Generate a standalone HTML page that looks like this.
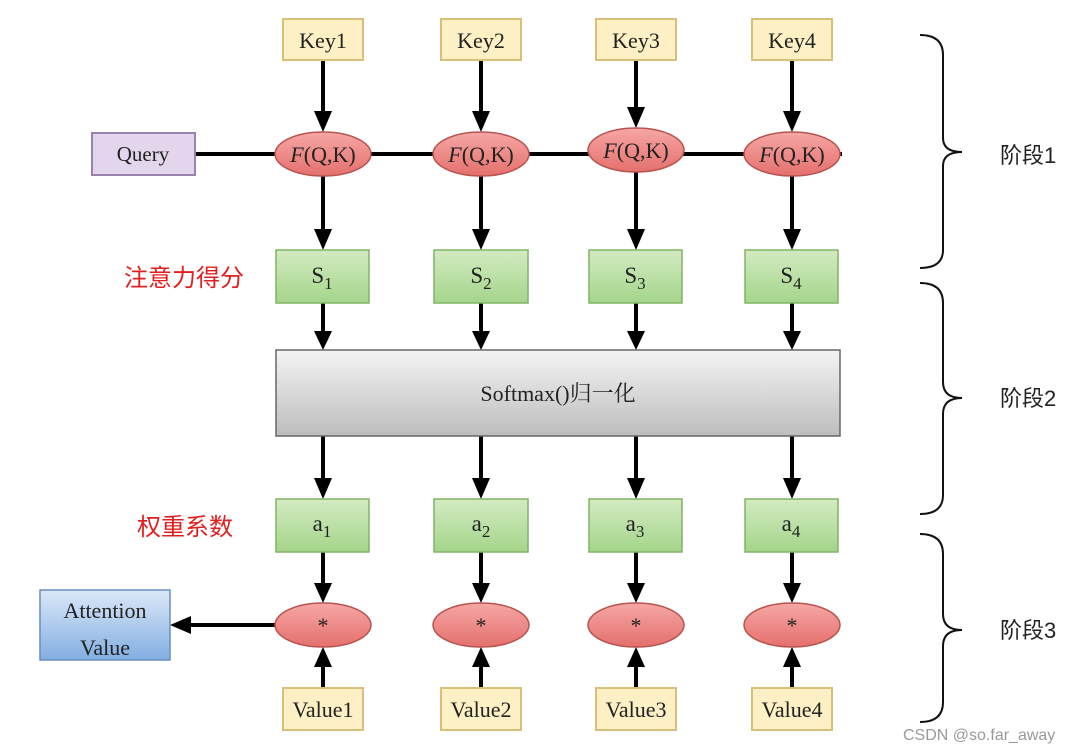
<!DOCTYPE html>
<html><head><meta charset="utf-8"><style>
html,body{margin:0;padding:0;background:#fff;}
svg{display:block;}
text{font-family:"Liberation Serif","Noto Serif CJK SC",serif;fill:#222;}
.cjk{font-family:"Liberation Sans","Noto Sans CJK SC",sans-serif;}
</style></head><body>
<svg width="1092" height="750" viewBox="0 0 1092 750" xmlns="http://www.w3.org/2000/svg">
<defs>
<linearGradient id="gray" x1="0" y1="0" x2="0" y2="1"><stop offset="0" stop-color="#f4f4f4"/><stop offset="1" stop-color="#bdbdbd"/></linearGradient>
<linearGradient id="red" x1="0" y1="0" x2="0" y2="1"><stop offset="0" stop-color="#f6a7a5"/><stop offset="1" stop-color="#e4706d"/></linearGradient>
<linearGradient id="green" x1="0" y1="0" x2="0" y2="1"><stop offset="0" stop-color="#d3ebc2"/><stop offset="1" stop-color="#a4d58a"/></linearGradient>
<linearGradient id="blue" x1="0" y1="0" x2="0" y2="1"><stop offset="0" stop-color="#dce8f8"/><stop offset="1" stop-color="#82aee2"/></linearGradient>
</defs>
<line x1="195" y1="154" x2="842" y2="154" stroke="#000" stroke-width="4"/>
<g stroke="#000" stroke-width="4">
<line x1="323" y1="60" x2="323" y2="115"/><line x1="481" y1="60" x2="481" y2="115"/><line x1="636" y1="60" x2="636" y2="110"/><line x1="792" y1="60" x2="792" y2="115"/>
<line x1="323" y1="176" x2="323" y2="232"/><line x1="481" y1="176" x2="481" y2="232"/><line x1="636" y1="172" x2="636" y2="232"/><line x1="792" y1="176" x2="792" y2="232"/>
<line x1="323" y1="303" x2="323" y2="334"/><line x1="481" y1="303" x2="481" y2="334"/><line x1="636" y1="303" x2="636" y2="334"/><line x1="792" y1="303" x2="792" y2="334"/>
<line x1="323" y1="436" x2="323" y2="481"/><line x1="481" y1="436" x2="481" y2="481"/><line x1="636" y1="436" x2="636" y2="481"/><line x1="792" y1="436" x2="792" y2="481"/>
<line x1="323" y1="552" x2="323" y2="586"/><line x1="481" y1="552" x2="481" y2="586"/><line x1="636" y1="552" x2="636" y2="586"/><line x1="792" y1="552" x2="792" y2="586"/>
<line x1="323" y1="688" x2="323" y2="664"/><line x1="481" y1="688" x2="481" y2="664"/><line x1="636" y1="688" x2="636" y2="664"/><line x1="792" y1="688" x2="792" y2="664"/>
<line x1="275" y1="625" x2="188" y2="625"/>
</g>
<g fill="#000">
<polygon points="314,111 332,111 323,132"/><polygon points="472,111 490,111 481,132"/><polygon points="627,107 645,107 636,128"/><polygon points="783,111 801,111 792,132"/>
<polygon points="314,229 332,229 323,250"/><polygon points="472,229 490,229 481,250"/><polygon points="627,229 645,229 636,250"/><polygon points="783,229 801,229 792,250"/>
<polygon points="314,331 332,331 323,350"/><polygon points="472,331 490,331 481,350"/><polygon points="627,331 645,331 636,350"/><polygon points="783,331 801,331 792,350"/>
<polygon points="314,478 332,478 323,499"/><polygon points="472,478 490,478 481,499"/><polygon points="627,478 645,478 636,499"/><polygon points="783,478 801,478 792,499"/>
<polygon points="314,583 332,583 323,603"/><polygon points="472,583 490,583 481,603"/><polygon points="627,583 645,583 636,603"/><polygon points="783,583 801,583 792,603"/>
<polygon points="314,667 332,667 323,647"/><polygon points="472,667 490,667 481,647"/><polygon points="627,667 645,667 636,647"/><polygon points="783,667 801,667 792,647"/>
<polygon points="191,616 191,634 170,625"/>
</g>
<g fill="#fdf0c4" stroke="#d9c07a" stroke-width="2">
<rect x="283" y="19" width="80" height="41"/><rect x="441" y="19" width="80" height="41"/><rect x="596" y="19" width="80" height="41"/><rect x="752" y="19" width="80" height="41"/>
<rect x="283" y="688" width="80" height="42"/><rect x="441" y="688" width="80" height="42"/><rect x="596" y="688" width="80" height="42"/><rect x="752" y="688" width="80" height="42"/>
</g>
<g font-size="22" text-anchor="middle">
<text x="323" y="48">Key1</text><text x="481" y="48">Key2</text><text x="636" y="48">Key3</text><text x="792" y="48">Key4</text>
<text x="323" y="717">Value1</text><text x="481" y="717">Value2</text><text x="636" y="717">Value3</text><text x="792" y="717">Value4</text>
</g>
<rect x="92" y="133" width="103" height="42" fill="#e3d5ec" stroke="#9b83b0" stroke-width="2"/>
<text x="143" y="161" font-size="21" text-anchor="middle">Query</text>
<g fill="url(#red)" stroke="#b85450" stroke-width="1.5">
<ellipse cx="323" cy="154" rx="48" ry="22"/><ellipse cx="481" cy="154" rx="48" ry="22"/><ellipse cx="636" cy="150" rx="48" ry="22"/><ellipse cx="792" cy="154" rx="48" ry="22"/>
<ellipse cx="323" cy="625" rx="48" ry="22"/><ellipse cx="481" cy="625" rx="48" ry="22"/><ellipse cx="636" cy="625" rx="48" ry="22"/><ellipse cx="792" cy="625" rx="48" ry="22"/>
</g>
<g font-size="22" text-anchor="middle">
<text x="323" y="162"><tspan font-style="italic">F</tspan>(Q,K)</text><text x="481" y="162"><tspan font-style="italic">F</tspan>(Q,K)</text><text x="636" y="158"><tspan font-style="italic">F</tspan>(Q,K)</text><text x="792" y="162"><tspan font-style="italic">F</tspan>(Q,K)</text>
<text x="323" y="633">*</text><text x="481" y="633">*</text><text x="636" y="633">*</text><text x="792" y="633">*</text>
</g>
<g fill="url(#green)" stroke="#82b366" stroke-width="1.5">
<rect x="276" y="250" width="93" height="53"/><rect x="434" y="250" width="94" height="53"/><rect x="589" y="250" width="93" height="53"/><rect x="745" y="250" width="93" height="53"/>
<rect x="276" y="499" width="93" height="53"/><rect x="434" y="499" width="94" height="53"/><rect x="589" y="499" width="93" height="53"/><rect x="745" y="499" width="93" height="53"/>
</g>
<g font-size="23" text-anchor="middle">
<text x="322" y="283">S<tspan font-size="17" dy="6">1</tspan></text><text x="481" y="283">S<tspan font-size="17" dy="6">2</tspan></text><text x="635" y="283">S<tspan font-size="17" dy="6">3</tspan></text><text x="791" y="283">S<tspan font-size="17" dy="6">4</tspan></text>
<text x="322" y="531">a<tspan font-size="17" dy="6">1</tspan></text><text x="481" y="531">a<tspan font-size="17" dy="6">2</tspan></text><text x="635" y="531">a<tspan font-size="17" dy="6">3</tspan></text><text x="791" y="531">a<tspan font-size="17" dy="6">4</tspan></text>
</g>
<rect x="276" y="350" width="564" height="86" fill="url(#gray)" stroke="#666" stroke-width="1.5"/>
<text x="558" y="401" font-size="22" text-anchor="middle">Softmax()归一化</text>
<rect x="40" y="590" width="130" height="70" fill="url(#blue)" stroke="#6c8ebf" stroke-width="1.5"/>
<text x="105" y="618" font-size="22" text-anchor="middle">Attention</text>
<text x="105" y="655" font-size="22" text-anchor="middle">Value</text>
<text class="cjk" x="184" y="286" font-size="24" style="fill:#e02020" text-anchor="middle">注意力得分</text>
<text class="cjk" x="185" y="535" font-size="24" style="fill:#e02020" text-anchor="middle">权重系数</text>
<g fill="none" stroke="#111" stroke-width="2">
<path d="M920,35 Q943,35 943,55 L943,138 Q943,152 962,152 Q943,152 943,166 L943,250 Q943,268 920,268"/>
<path d="M920,283 Q943,283 943,303 L943,382 Q943,398 962,398 Q943,398 943,414 L943,495 Q943,514 920,514"/>
<path d="M920,534 Q943,534 943,554 L943,614 Q943,630 962,630 Q943,630 943,646 L943,702 Q943,722 920,722"/>
</g>
<text class="cjk" x="1000" y="163" font-size="22">阶段1</text>
<text class="cjk" x="1000" y="406" font-size="22">阶段2</text>
<text class="cjk" x="1000" y="638" font-size="22">阶段3</text>
<text class="cjk" x="903" y="740" font-size="16" style="fill:#999">CSDN @so.far_away</text>
</svg>
</body></html>
